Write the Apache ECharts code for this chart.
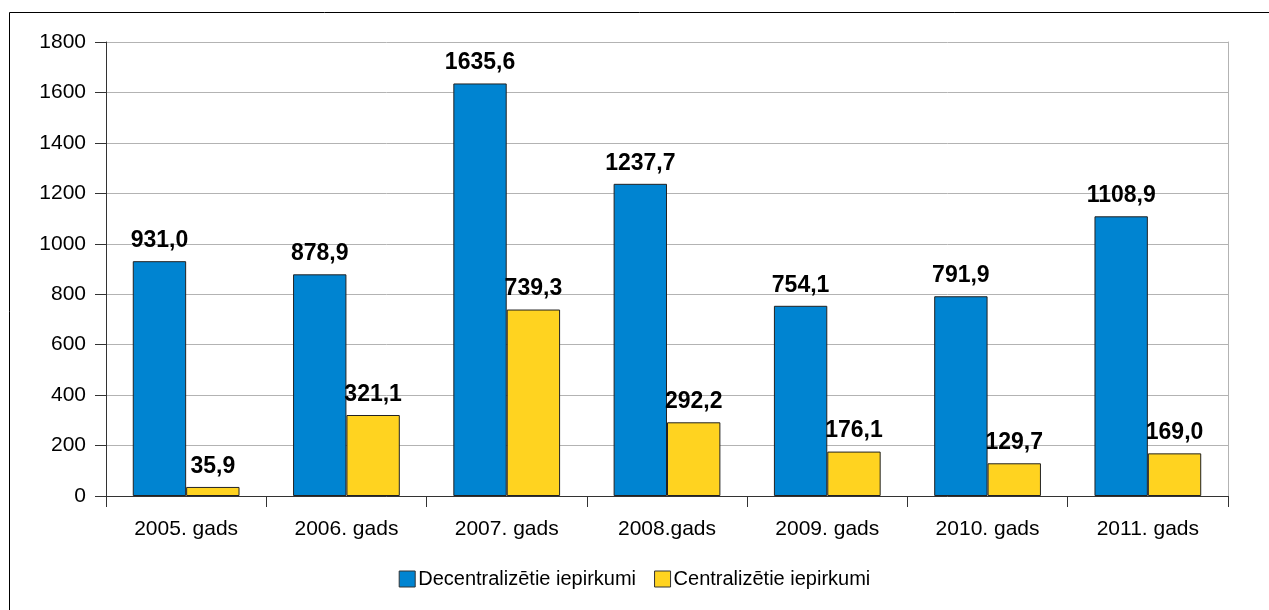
<!DOCTYPE html>
<html>
<head>
<meta charset="utf-8">
<script src="https://cdn.jsdelivr.net/npm/echarts@6/dist/echarts.min.js"></script>
<style>
html,body{margin:0;padding:0;background:#fff;}
#chart{width:1269px;height:610px;}
</style>
</head>
<body>
<div id="chart"></div>
<script>
var categories = ['2005. gads','2006. gads','2007. gads','2008.gads','2009. gads','2010. gads','2011. gads'];
var decentralizetie = [931.0, 878.9, 1635.6, 1237.7, 754.1, 791.9, 1108.9];
var centralizetie = [35.9, 321.1, 739.3, 292.2, 176.1, 129.7, 169.0];
var seriesNames = ['Decentralizētie iepirkumi', 'Centralizētie iepirkumi'];
var yTicks = {min: 0, max: 1800, interval: 200};

var FONT = '"Liberation Sans", Arial, sans-serif';
var chart = echarts.init(document.getElementById('chart'), null, {renderer: 'canvas'});

function fmt(p) { return p.value.toFixed(1).replace('.', ','); }

var labelCfg = {
  show: true, position: 'top', distance: 9,
  formatter: fmt, fontFamily: FONT, fontWeight: 'bold', fontSize: 23, color: '#000'
};

chart.setOption({
  animation: false,
  backgroundColor: '#fff',
  graphic: [{
    type: 'rect', silent: true,
    shape: {x: 9.5, y: 12.5, width: 1300, height: 650},
    style: {fill: 'none', stroke: '#000', lineWidth: 1}
  }],
  grid: {left: 106, right: 41, top: 42, bottom: 114, containLabel: false},
  legend: {
    data: seriesNames,
    left: 'center', top: 564,
    icon: 'rect', itemWidth: 16, itemHeight: 16, itemGap: 18,
    textStyle: {fontFamily: FONT, fontSize: 20, color: '#000', padding: [0,0,0,-2]},
    itemStyle: {borderColor: '#333', borderWidth: 1}
  },
  xAxis: {
    type: 'category', data: categories,
    axisLine: {lineStyle: {color: '#333', width: 1}},
    axisTick: {show: true, length: 11, alignWithLabel: false, lineStyle: {color: '#333'}},
    axisLabel: {fontFamily: FONT, fontSize: 21, color: '#000', margin: 23}
  },
  yAxis: [{
    type: 'value', min: yTicks.min, max: yTicks.max, interval: yTicks.interval,
    axisLine: {show: true, lineStyle: {color: '#333', width: 1}},
    axisTick: {show: true, length: 11, lineStyle: {color: '#333'}},
    axisLabel: {fontFamily: FONT, fontSize: 21, color: '#000', margin: 20,
      formatter: function (v) { return String(v); }},
    splitLine: {show: true, lineStyle: {color: '#b3b3b3', width: 1}}
  }, {
    type: 'value', position: 'right', min: yTicks.min, max: yTicks.max, interval: yTicks.interval,
    axisLine: {show: true, lineStyle: {color: '#b3b3b3', width: 1}},
    axisTick: {show: false}, axisLabel: {show: false}, splitLine: {show: false}
  }],
  series: [{
    name: seriesNames[0], type: 'bar', data: decentralizetie,
    barGap: '0%', barCategoryGap: '33.4%',
    itemStyle: {color: '#0084d1', borderColor: '#222', borderWidth: 1},
    label: labelCfg
  }, {
    name: seriesNames[1], type: 'bar', data: centralizetie,
    barGap: '0%', barCategoryGap: '33.4%',
    itemStyle: {color: '#ffd320', borderColor: '#222', borderWidth: 1},
    label: labelCfg
  }]
});
</script>
</body>
</html>
